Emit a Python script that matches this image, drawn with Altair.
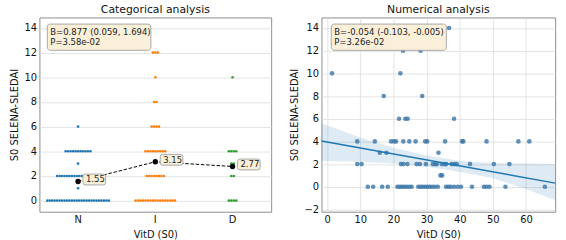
import altair as alt
import pandas as pd

# ---------------- data ----------------
cats = ["N", "I", "D"]
cat_colors = ["#1f77b4", "#ff7f0e", "#2ca02c"]

N_scores = [0, 1, 2, 3, 4, 6]
N_counts = [26, 1, 18, 1, 11, 1]
I_scores = [0, 2, 4, 6, 8, 10, 12]
I_counts = [17, 8, 9, 4, 2, 1, 3]
D_scores = [0, 2, 3, 4, 10]
D_counts = [4, 2, 2, 4, 1]

means = [1.55, 3.15, 2.77]
mean_labels = ["1.55", "3.15", "2.77"]

# numerical panel: VitD values for each SLEDAI score
vitd_14 = [36.8]
vitd_12 = [22.9, 28.2]
vitd_10 = [1.5, 22.1]
vitd_8 = [17.1, 28.7]
vitd_6 = [21.7, 23.6, 24.3, 38.3]
vitd_4 = [9.1, 14.4, 19.3, 20.2, 20.8, 23.0, 24.8, 26.7, 29.6, 30.2, 35.6,
          40.7, 41.1, 48.1, 57.7, 61.0]
vitd_3 = [15.9, 17.9, 33.6]
vitd_2 = [9.1, 10.4, 22.3, 23.0, 24.2, 27.0, 28.0, 29.8, 31.9, 32.6, 33.1,
          34.6, 35.4, 35.9, 37.6, 38.4, 39.1, 43.1, 50.3, 55.0]
vitd_1 = [34.2, 34.7]
vitd_0 = [12.3, 13.9, 16.6, 18.3, 21.2, 21.9, 22.6, 23.3, 24.0, 24.8, 25.5,
          27.5, 28.2, 28.9, 29.6, 30.3, 31.0, 31.7, 32.5, 33.4, 35.9, 36.6,
          37.3, 38.3, 39.4, 40.4, 43.7, 47.3, 48.1, 49.0, 53.8, 65.7]

fit_x = [-1.7, 68.8]
fit_y = [4.03, 0.32]
band_x = [-1.7, 10, 20, 30, 40, 50, 60, 68.8]
band_lo = [2.3, 2.2, 2.05, 1.77, 1.33, 0.75, -0.2, -1.19]
band_hi = [5.6, 4.35, 3.45, 2.75, 2.3, 2.1, 2.05, 2.0]

left_ticks = [0, 2, 4, 6, 8, 10, 12, 14]
right_yticks = [-2, 0, 2, 4, 6, 8, 10, 12, 14]
right_xticks = [0, 10, 20, 30, 40, 50, 60]

stat_left = ["B=0.877 (0.059, 1.694)", "P=3.58e-02"]
stat_right = ["B=-0.054 (-0.103, -0.005)", "P=3.26e-02"]

# ---------------- tables ----------------
rows = []
for c, sc, cn in zip(cats, [N_scores, I_scores, D_scores], [N_counts, I_counts, D_counts]):
    for s, n in zip(sc, cn):
        for _ in range(n):
            rows.append({"cat": c, "score": s})
swarm_df = pd.DataFrame(rows)
mean_df = pd.DataFrame({"cat": cats, "mean": means, "label": mean_labels})

num_rows = []
for s, vals in [(14, vitd_14), (12, vitd_12), (10, vitd_10), (8, vitd_8), (6, vitd_6),
                (4, vitd_4), (3, vitd_3), (2, vitd_2), (1, vitd_1), (0, vitd_0)]:
    for v in vals:
        num_rows.append({"vitd": v, "score": s})
num_df = pd.DataFrame(num_rows)
fit_df = pd.DataFrame({"vitd": fit_x, "score": fit_y})
band_df = pd.DataFrame({"vitd": band_x, "lo": band_lo, "hi": band_hi})
one = pd.DataFrame({"k": [0]})

FONT = "DejaVu Sans"
BOX_FILL = "#faefd9"
BOX_STROKE = "#a8a8a8"
W_L, W_R, H = 235, 237, 197

# ---------------- left: categorical ----------------
xcat = alt.X("cat:N", sort=cats,
             scale=alt.Scale(domain=cats, paddingInner=0, paddingOuter=0),
             axis=alt.Axis(title="VitD (S0)", labelAngle=0))
yl = alt.Y("score:Q", scale=alt.Scale(domain=[-0.9, 14.85], nice=False, zero=False),
           axis=alt.Axis(title="S0 SELENA-SLEDAI", values=left_ticks,
                         tickCount=len(left_ticks)))

swarm = alt.Chart(swarm_df).transform_window(
    rank="row_number()", groupby=["cat", "score"]
).transform_joinaggregate(
    n="count()", groupby=["cat", "score"]
).transform_calculate(
    off="datum.rank - (datum.n + 1) / 2"
).mark_circle(size=7, opacity=1).encode(
    x=xcat,
    xOffset=alt.XOffset("off:Q", scale=alt.Scale(domain=[-15.67, 15.67], zero=False)),
    y=yl,
    color=alt.Color("cat:N", scale=alt.Scale(domain=cats, range=cat_colors), legend=None),
)

ym = alt.Y("mean:Q")
mean_line = alt.Chart(mean_df).mark_line(color="black", strokeDash=[3.5, 1.8], strokeWidth=1).encode(
    x=alt.X("cat:N", sort=cats), y=ym, order=alt.Order("k:Q")
).transform_calculate(k="indexof(['N','I','D'], datum.cat)")
mean_pts = alt.Chart(mean_df).mark_circle(size=30, color="black", opacity=1).encode(
    x=alt.X("cat:N", sort=cats), y=ym)
box_path = ("M7.5,-7.5 L25.5,-7.5 Q28,-7.5 28,-5 L28,1 Q28,3.5 25.5,3.5 "
            "L7.5,3.5 Q5,3.5 5,1 L5,-5 Q5,-7.5 7.5,-7.5 Z")
mean_box = alt.Chart(mean_df).mark_point(shape=box_path, size=4, filled=True,
                                         fill=BOX_FILL, stroke=BOX_STROKE,
                                         strokeWidth=1, opacity=1).encode(
    x=alt.X("cat:N", sort=cats), y=ym)
mean_txt = alt.Chart(mean_df).mark_text(align="left", baseline="middle", dx=8, dy=-2,
                                        font=FONT, fontSize=8.6, color="#222").encode(
    x=alt.X("cat:N", sort=cats), y=ym, text="label:N")

stat_box_l = alt.Chart(one).mark_rect(fill=BOX_FILL, stroke=BOX_STROKE, strokeWidth=1,
                                      cornerRadius=3).encode(
    x=alt.value(8), x2=alt.value(113), y=alt.value(6.7), y2=alt.value(33.3))
stat_txt_l = alt.Chart(one).mark_text(align="left", baseline="top", font=FONT, fontSize=8.6,
                                      lineHeight=10.4, color="#222").encode(
    x=alt.value(11), y=alt.value(10.5), text=alt.value(stat_left))

left = alt.layer(swarm, mean_line, mean_pts, mean_box, mean_txt, stat_box_l, stat_txt_l).properties(
    width=W_L, height=H, title="Categorical analysis")

# ---------------- right: numerical ----------------
xscale_r = alt.Scale(domain=[-1.7, 68.8], nice=False, zero=False)
xr = alt.X("vitd:Q", scale=xscale_r,
           axis=alt.Axis(title="VitD (S0)", values=right_xticks, tickCount=len(right_xticks)))
yr = alt.Y("score:Q", scale=alt.Scale(domain=[-2.2, 14.93], nice=False, zero=False),
           axis=alt.Axis(title="S0 SELENA-SLEDAI", values=right_yticks,
                         tickCount=len(right_yticks)))

band = alt.Chart(band_df).mark_area(color="#1f77b4", opacity=0.15).encode(
    x=xr, y=alt.Y("lo:Q", scale=alt.Scale(domain=[-2.2, 14.93], nice=False, zero=False),
                  axis=alt.Axis(title="S0 SELENA-SLEDAI", values=right_yticks,
                                tickCount=len(right_yticks))),
    y2="hi:Q")
pts = alt.Chart(num_df).mark_circle(size=22, color="#3a76a8", opacity=0.8).encode(x=xr, y=yr)
fit = alt.Chart(fit_df).mark_line(color="#1f77b4", strokeWidth=1.5).encode(x=xr, y=yr)
stat_box_r = alt.Chart(one).mark_rect(fill=BOX_FILL, stroke=BOX_STROKE, strokeWidth=1,
                                      cornerRadius=3).encode(
    x=alt.value(10), x2=alt.value(126.7), y=alt.value(6.7), y2=alt.value(33.3))
stat_txt_r = alt.Chart(one).mark_text(align="left", baseline="top", font=FONT, fontSize=8.6,
                                      lineHeight=10.4, color="#222").encode(
    x=alt.value(13), y=alt.value(10.5), text=alt.value(stat_right))

right = alt.layer(band, pts, fit, stat_box_r, stat_txt_r).properties(
    width=W_R, height=H, title="Numerical analysis")

chart = alt.hconcat(left, right, spacing=16).properties(
    padding={"left": 8, "top": 1, "right": 7, "bottom": 0}
).configure_view(
    stroke="#8c8c8c", strokeWidth=1
).configure_axis(
    labelFont=FONT, titleFont=FONT, labelFontSize=10, titleFontSize=10,
    titleFontWeight="normal", labelColor="#111", titleColor="#111",
    tickSize=0, labelPadding=3, titlePadding=5, domain=False,
    gridColor="#dddddd", gridWidth=0.8, labelOverlap=False, labelBound=False,
).configure_title(
    font=FONT, fontSize=11, fontWeight="normal", offset=3, color="#111"
).configure_scale(bandPaddingInner=0)

chart.save("out.html", embed_options={"renderer": "svg", "actions": False})
